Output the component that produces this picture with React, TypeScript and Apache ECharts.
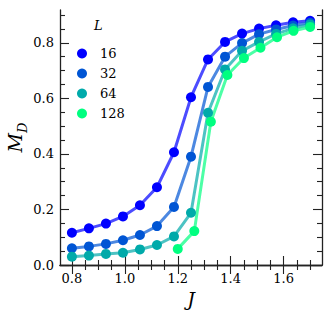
import React, { useEffect, useRef } from "react";
import * as echarts from "echarts";

const J = [0.8, 0.8643, 0.9286, 0.9929, 1.0571, 1.1214, 1.1857, 1.25, 1.3143, 1.3786, 1.4429, 1.5071, 1.5714, 1.6357, 1.7];
const J128 = [1.2, 1.2625, 1.325, 1.3875, 1.45, 1.5125, 1.575, 1.6375, 1.7];

const MD16 = [0.116, 0.132, 0.149, 0.175, 0.215, 0.28, 0.406, 0.604, 0.74, 0.803, 0.833, 0.851, 0.863, 0.874, 0.879];
const MD32 = [0.06, 0.067, 0.076, 0.089, 0.108, 0.14, 0.209, 0.39, 0.641, 0.75, 0.799, 0.831, 0.848, 0.862, 0.872];
const MD64 = [0.03, 0.034, 0.04, 0.044, 0.056, 0.072, 0.103, 0.188, 0.548, 0.704, 0.771, 0.803, 0.832, 0.852, 0.866];
const MD128 = [0.058, 0.122, 0.516, 0.684, 0.745, 0.782, 0.82, 0.843, 0.857];

const SIZES = ["16", "32", "64", "128"];
const COLORS = ["#0000ff", "#0055d4", "#00aaaa", "#00ff80"];
const LINE_COLORS = ["rgba(0,0,255,0.7)", "rgba(0,85,212,0.7)", "rgba(0,170,170,0.7)", "rgba(0,255,128,0.7)"];

const X_MAJOR = [0.8, 1.0, 1.2, 1.4, 1.6];
const X_MINOR = [0.85, 0.9, 0.95, 1.05, 1.1, 1.15, 1.25, 1.3, 1.35, 1.45, 1.5, 1.55, 1.65, 1.7];
const Y_MAJOR = [0, 0.2, 0.4, 0.6, 0.8];
const Y_MINOR = [0.05, 0.1, 0.15, 0.25, 0.3, 0.35, 0.45, 0.5, 0.55, 0.65, 0.7, 0.75, 0.85, 0.9];

const X_MIN = 0.755;
const X_MAX = 1.745;
const Y_MIN = 0;
const Y_MAX = 0.918;

const FONT = "'DejaVu Serif', 'Liberation Serif', serif";

export default function App() {
  const ref = useRef<HTMLDivElement>(null);
  useEffect(() => {
    document.body.style.margin = "0";
    const chart = echarts.init(ref.current!, null, { renderer: "svg" });
    const lineCol = "#222";
    const mkX = (pos: string, major: boolean, main: boolean) => ({
      type: "value",
      position: pos,
      min: X_MIN,
      max: X_MAX,
      axisLine: { show: main, lineStyle: { color: lineCol, width: 1.3 } },
      axisTick: {
        show: true,
        inside: true,
        length: major ? 9 : 5,
        customValues: major ? X_MAJOR : X_MINOR,
        lineStyle: { color: lineCol, width: 1.1 },
      },
      axisLabel: {
        show: main && pos === "bottom",
        customValues: X_MAJOR,
        formatter: (v: number) => v.toFixed(1),
        color: "#000",
        fontFamily: FONT,
        fontSize: 13,
        margin: 7,
      },
      splitLine: { show: false },
      name: main && pos === "bottom" ? "J" : "",
      nameLocation: "middle",
      nameGap: 24,
      nameMoveOverlap: false,
      nameTextStyle: { fontFamily: FONT, fontStyle: "italic", fontSize: 19, color: "#000" },
    });
    const mkY = (pos: string, major: boolean, main: boolean) => ({
      type: "value",
      position: pos,
      min: Y_MIN,
      max: Y_MAX,
      axisLine: { show: main, lineStyle: { color: lineCol, width: 1.3 } },
      axisTick: {
        show: true,
        inside: true,
        length: major ? 9 : 5,
        customValues: major ? Y_MAJOR : Y_MINOR,
        lineStyle: { color: lineCol, width: 1.1 },
      },
      axisLabel: {
        show: main && pos === "left",
        customValues: Y_MAJOR,
        formatter: (v: number) => v.toFixed(1),
        color: "#000",
        fontFamily: FONT,
        fontSize: 13,
        margin: 6,
      },
      splitLine: { show: false },
      name: main && pos === "left" ? "{m|M}{s|D}" : "",
      nameLocation: "middle",
      nameRotate: 90,
      nameGap: 31,
      nameMoveOverlap: false,
      nameTextStyle: {
        rich: {
          m: { fontFamily: FONT, fontStyle: "italic", fontSize: 19, color: "#000", padding: [0, 0, 5, 0] },
          s: { fontFamily: FONT, fontStyle: "italic", fontSize: 13, color: "#000", verticalAlign: "bottom" },
        },
      },
    });
    const datasets = [
      J.map((x, i) => [x, MD16[i]]),
      J.map((x, i) => [x, MD32[i]]),
      J.map((x, i) => [x, MD64[i]]),
      J128.map((x, i) => [x, MD128[i]]),
    ];
    chart.setOption({
      animation: false,
      grid: { left: 60, top: 10, width: 262, height: 255, outerBoundsMode: "none" },
      xAxis: [mkX("bottom", true, true), mkX("bottom", false, false), mkX("top", true, true), mkX("top", false, false)],
      yAxis: [mkY("left", true, true), mkY("left", false, false), mkY("right", true, true), mkY("right", false, false)],
      legend: {
        orient: "vertical",
        left: 72,
        top: 42,
        icon: "circle",
        itemWidth: 26,
        itemHeight: 10,
        itemGap: 7,
        data: SIZES,
        textStyle: { fontFamily: FONT, fontSize: 13, color: "#000" },
      },
      graphic: [
        {
          type: "text",
          left: 94,
          top: 19,
          style: { text: "L", fontFamily: FONT, fontStyle: "italic", fontSize: 13, fill: "#000" },
        },
      ],
      series: datasets.map((d, k) => ({
        type: "line",
        name: SIZES[k],
        data: d,
        xAxisIndex: 0,
        yAxisIndex: 0,
        symbol: "circle",
        symbolSize: 10,
        itemStyle: { color: COLORS[k], opacity: 1 },
        lineStyle: { color: LINE_COLORS[k], width: 3 },
      })),
    });
    return () => chart.dispose();
  }, []);
  return <div ref={ref} style={{ width: 332, height: 320 }} />;
}
